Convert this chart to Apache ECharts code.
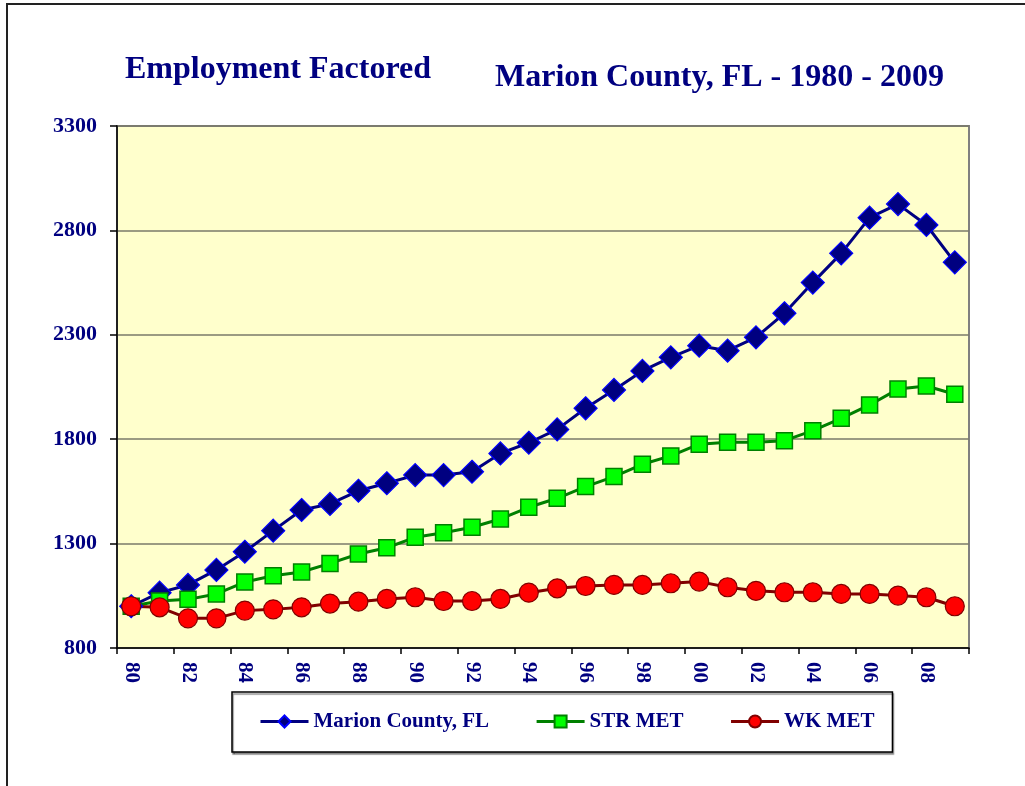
<!DOCTYPE html>
<html>
<head>
<meta charset="utf-8">
<script src="https://cdn.jsdelivr.net/npm/echarts@6/dist/echarts.min.js"></script>
<style>
html,body{margin:0;padding:0;background:#fff;}
#chart{width:1025px;height:786px;}
</style>
</head>
<body>
<div id="chart"></div>
<script>
var years = ['80','81','82','83','84','85','86','87','88','89','90','91','92','93','94','95','96','97','98','99','00','01','02','03','04','05','06','07','08','09'];
var marion = [1000,1065,1102,1174,1261,1362,1461,1490,1553,1589,1628,1628,1644,1732,1783,1847,1948,2036,2127,2192,2248,2224,2288,2403,2550,2690,2861,2926,2826,2647];
var strMet = [1000,1025,1033,1059,1116,1146,1164,1205,1250,1280,1330,1352,1378,1418,1474,1517,1573,1621,1680,1720,1776,1785,1785,1793,1841,1900,1964,2040,2055,2015];
var wkMet = [1000,995,942,942,979,985,995,1013,1022,1035,1043,1025,1025,1035,1065,1086,1097,1102,1102,1110,1118,1091,1074,1067,1067,1059,1059,1051,1043,1000];
var yTicks = {min: 800, max: 3300, interval: 500};

var FONT = '"Liberation Serif", "Times New Roman", serif';
var NAVY = '#000080';

var chart = echarts.init(document.getElementById('chart'), null, {renderer: 'canvas'});
chart.setOption({
  animation: false,
  backgroundColor: '#ffffff',
  title: [
    {text: 'Employment Factored', left: 120, top: 49,
     textStyle: {fontFamily: FONT, fontWeight: 'bold', fontSize: 32, color: NAVY}},
    {text: 'Marion County, FL - 1980 - 2009', left: 490, top: 57,
     textStyle: {fontFamily: FONT, fontWeight: 'bold', fontSize: 32, color: NAVY}}
  ],
  graphic: [
    {type: 'polyline', shape: {points: [[7, 786], [7, 4], [1025, 4]]},
     style: {stroke: '#222', lineWidth: 2, fill: null}, silent: true}
  ],
  grid: {left: 117, right: 56, top: 126, bottom: 138, show: true,
         backgroundColor: '#FFFFCC', borderColor: '#808080', borderWidth: 2},
  legend: {
    left: 232, top: 692,
    padding: [19, 18, 20, 27],
    itemGap: 46,
    itemWidth: 48, itemHeight: 15,
    borderColor: '#000', borderWidth: 1.5,
    backgroundColor: '#fff',
    shadowColor: 'rgba(0,0,0,0.45)', shadowOffsetX: 1, shadowOffsetY: 2, shadowBlur: 1,
    lineStyle: {width: 3},
    textStyle: {fontFamily: FONT, fontWeight: 'bold', fontSize: 21, color: NAVY},
    data: ['Marion County, FL', 'STR MET', 'WK MET']
  },
  xAxis: {
    type: 'category', data: years, boundaryGap: true,
    axisLine: {lineStyle: {color: '#000', width: 1.5}},
    axisTick: {show: true, interval: 1, length: 6, lineStyle: {color: '#000', width: 1.5}},
    axisLabel: {interval: 1, rotate: -90, margin: 14, fontFamily: FONT, fontWeight: 'bold', fontSize: 21, color: NAVY},
    splitLine: {show: false}
  },
  yAxis: {
    type: 'value', min: yTicks.min, max: yTicks.max, interval: yTicks.interval,
    axisLine: {show: true, lineStyle: {color: '#000', width: 1.5}},
    axisTick: {show: true, length: 7, lineStyle: {color: '#000', width: 1.5}},
    axisLabel: {margin: 20, fontFamily: FONT, fontWeight: 'bold', fontSize: 22, color: NAVY,
                formatter: function (v) { return String(v); }},
    splitLine: {show: true, lineStyle: {color: '#7a7a6a', width: 1.5}}
  },
  series: [
    {name: 'Marion County, FL', type: 'line', data: marion,
     symbol: 'diamond', symbolSize: 23, showSymbol: true, showAllSymbol: true,
     lineStyle: {color: '#000080', width: 3},
     itemStyle: {color: '#000080', borderColor: '#0000FF', borderWidth: 1.2}},
    {name: 'STR MET', type: 'line', data: strMet,
     symbol: 'rect', symbolSize: 16, showSymbol: true, showAllSymbol: true,
     lineStyle: {color: '#008000', width: 3},
     itemStyle: {color: '#00FF00', borderColor: '#008000', borderWidth: 1.5}},
    {name: 'WK MET', type: 'line', data: wkMet,
     symbol: 'circle', symbolSize: 19, showSymbol: true, showAllSymbol: true,
     lineStyle: {color: '#800000', width: 3},
     itemStyle: {color: '#FF0000', borderColor: '#800000', borderWidth: 1.2}}
  ]
});
</script>
</body>
</html>
